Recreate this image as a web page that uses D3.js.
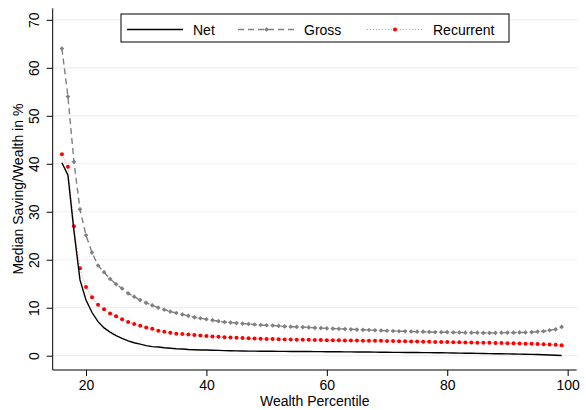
<!DOCTYPE html>
<html>
<head>
<meta charset="utf-8">
<script src="https://cdn.jsdelivr.net/npm/d3@7/dist/d3.min.js"></script>
<style>
html,body{margin:0;padding:0;background:#fff;}
svg{display:block;font-family:"Liberation Sans",Arial,sans-serif;}
</style>
</head>
<body>
<svg id="chart" width="586" height="410"></svg>
<script>
const percentiles = d3.range(16, 100);
const gross = [64.0,54.0,40.4,30.5,25.1,21.5,18.8,17.4,16.0,14.9,14.0,13.0,12.3,11.6,11.0,10.5,10.0,9.6,9.2,8.9,8.6,8.3,8.0,7.8,7.6,7.4,7.2,7.0,6.9,6.8,6.7,6.6,6.5,6.4,6.35,6.3,6.2,6.1,6.05,6.0,5.95,5.9,5.8,5.75,5.7,5.65,5.6,5.55,5.5,5.45,5.4,5.35,5.3,5.25,5.2,5.15,5.1,5.1,5.05,5.0,5.0,4.95,4.9,4.9,4.9,4.85,4.85,4.8,4.8,4.8,4.75,4.75,4.75,4.8,4.8,4.8,4.85,4.85,4.9,5.0,5.1,5.3,5.5,6.0];
const recurrent = [42.0,39.4,27.0,18.2,14.3,12.2,10.6,9.7,8.8,8.2,7.6,7.0,6.6,6.25,5.9,5.6,5.2,5.0,4.8,4.6,4.5,4.4,4.3,4.2,4.1,4.0,3.95,3.85,3.8,3.75,3.7,3.65,3.6,3.55,3.5,3.48,3.45,3.4,3.38,3.35,3.33,3.3,3.28,3.26,3.24,3.22,3.2,3.18,3.17,3.15,3.14,3.12,3.11,3.1,3.08,3.05,3.03,3.0,2.98,2.95,2.93,2.9,2.88,2.85,2.83,2.8,2.78,2.76,2.74,2.72,2.7,2.68,2.66,2.63,2.6,2.57,2.54,2.5,2.47,2.43,2.38,2.33,2.27,2.2];
const net = [40.2,37.6,26.0,15.8,11.6,9.0,7.1,5.8,4.9,4.2,3.6,3.1,2.7,2.4,2.1,1.9,1.8,1.65,1.55,1.45,1.4,1.3,1.25,1.2,1.18,1.15,1.1,1.05,1.02,1.0,0.98,0.96,0.95,0.94,0.93,0.92,0.91,0.9,0.89,0.88,0.87,0.86,0.85,0.84,0.83,0.82,0.81,0.8,0.79,0.78,0.77,0.76,0.74,0.72,0.71,0.7,0.69,0.68,0.67,0.66,0.65,0.64,0.62,0.6,0.58,0.56,0.54,0.52,0.5,0.48,0.46,0.44,0.42,0.4,0.38,0.35,0.33,0.3,0.27,0.24,0.2,0.16,0.1,0.05];
const xTicks = [20, 40, 60, 80, 100];
const yTicks = [0, 10, 20, 30, 40, 50, 60, 70];
const seriesNames = ["Net", "Gross", "Recurrent"];

(function () {
const svg = d3.select("#chart");
const pLeft = 52.7, pRight = 576.7, pTop = 8.3, pBottom = 370;
const x = d3.scaleLinear().domain([14.47, 101.5]).range([pLeft, pRight]);
const y = d3.scaleLinear().domain([-2.98, 72.4]).range([pBottom, pTop]);

// gridlines
svg.append("g").selectAll("line").data(yTicks).join("line")
  .attr("x1", pLeft + 1).attr("x2", pRight)
  .attr("y1", d => y(d)).attr("y2", d => y(d))
  .attr("stroke", "#e8f0f2").attr("stroke-width", 1.2);

// axes
const yAxis = svg.append("g").attr("transform", `translate(${pLeft},0)`)
  .call(d3.axisLeft(y).tickValues(yTicks).tickSize(6).tickPadding(8).tickSizeOuter(0));
yAxis.select(".domain").attr("d", `M0,${pTop}V${pBottom}`).attr("stroke", "#000");
yAxis.selectAll(".tick line").attr("stroke", "#000");
yAxis.selectAll(".tick text")
  .attr("font-size", 14).attr("fill", "#000")
  .attr("x", null).attr("dy", null)
  .attr("text-anchor", "middle")
  .attr("transform", "translate(-14,0) rotate(-90)")
  .attr("y", 0);

const xAxis = svg.append("g").attr("transform", `translate(0,${pBottom})`)
  .call(d3.axisBottom(x).tickValues(xTicks).tickSize(6).tickPadding(4).tickSizeOuter(0));
xAxis.select(".domain").attr("d", `M${pLeft},0H${pRight}`).attr("stroke", "#000");
xAxis.selectAll(".tick line").attr("stroke", "#000");
xAxis.selectAll(".tick text").attr("font-size", 14).attr("fill", "#000");

// titles
svg.append("text").attr("x", (pLeft + pRight) / 2).attr("y", 406)
  .attr("text-anchor", "middle").attr("font-size", 14).text("Wealth Percentile");
svg.append("text").attr("transform", `translate(23,${(pTop + pBottom) / 2}) rotate(-90)`)
  .attr("text-anchor", "middle").attr("font-size", 14).text("Median Saving/Wealth in %");

const line = d3.line().x((d, i) => x(percentiles[i])).y(d => y(d));
const grossSym = d3.symbol(d3.symbolDiamond2, 14);

// Gross
svg.append("path").datum(gross).attr("d", line)
  .attr("fill", "none").attr("stroke", "#808080").attr("stroke-width", 1.4)
  .attr("stroke-dasharray", "6,4");
svg.append("g").selectAll("path").data(gross).join("path")
  .attr("transform", (d, i) => `translate(${x(percentiles[i])},${y(d)})`)
  .attr("d", grossSym).attr("fill", "#808080");

// Recurrent
svg.append("path").datum(recurrent).attr("d", line)
  .attr("fill", "none").attr("stroke", "#ff8080").attr("stroke-width", 1)
  .attr("stroke-dasharray", "1,2");
svg.append("g").selectAll("circle").data(recurrent).join("circle")
  .attr("cx", (d, i) => x(percentiles[i])).attr("cy", d => y(d))
  .attr("r", 2).attr("fill", "#ff0000");

// Net
svg.append("path").datum(net).attr("d", line)
  .attr("fill", "none").attr("stroke", "#000").attr("stroke-width", 1.4);

// legend
const lg = svg.append("g");
lg.append("rect").attr("x", 121).attr("y", 14).attr("width", 388).attr("height", 28)
  .attr("fill", "#fff").attr("stroke", "#000").attr("stroke-width", 1);
const ly = 29.5;
const legendItems = [
  {name: seriesNames[0], x0: 127, x1: 183, tx: 193},
  {name: seriesNames[1], x0: 238, x1: 295, tx: 304},
  {name: seriesNames[2], x0: 367, x1: 423, tx: 433}
];
lg.append("line").attr("x1", legendItems[0].x0).attr("x2", legendItems[0].x1)
  .attr("y1", ly).attr("y2", ly).attr("stroke", "#000").attr("stroke-width", 1.4);
lg.append("line").attr("x1", legendItems[1].x0).attr("x2", legendItems[1].x1)
  .attr("y1", ly).attr("y2", ly).attr("stroke", "#808080").attr("stroke-width", 1.4)
  .attr("stroke-dasharray", "6,4");
lg.append("path").attr("transform", `translate(${(legendItems[1].x0 + legendItems[1].x1) / 2},${ly})`)
  .attr("d", grossSym).attr("fill", "#808080");
lg.append("line").attr("x1", legendItems[2].x0).attr("x2", legendItems[2].x1)
  .attr("y1", ly).attr("y2", ly).attr("stroke", "#ff8080").attr("stroke-width", 1)
  .attr("stroke-dasharray", "1,2");
lg.append("circle").attr("cx", (legendItems[2].x0 + legendItems[2].x1) / 2).attr("cy", ly)
  .attr("r", 2).attr("fill", "#ff0000");
lg.selectAll("text").data(legendItems).join("text")
  .attr("x", d => d.tx).attr("y", ly + 5).attr("font-size", 14).text(d => d.name);
})();
</script>
</body>
</html>
